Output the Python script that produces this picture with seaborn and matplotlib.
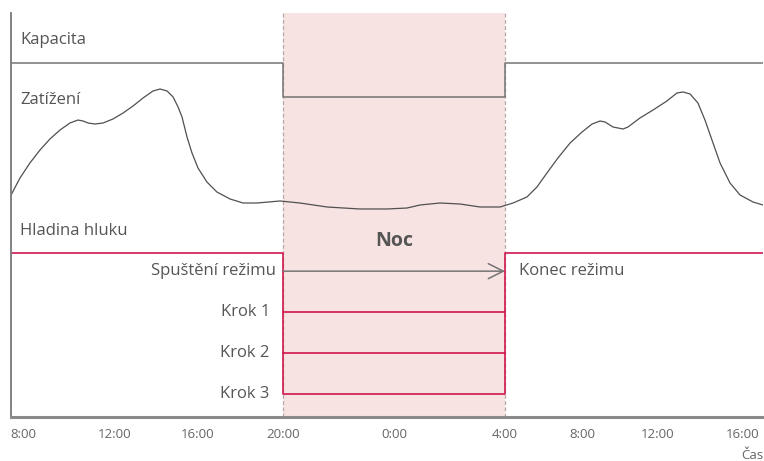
import matplotlib as mpl
import matplotlib.pyplot as plt
import numpy as np
import pandas as pd
import seaborn as sns

# x is hours since 8:00 of day 1; the axis is stretched over the night
tick_hours = [0, 4, 8, 12, 16, 20, 24, 28, 32]
tick_labels = ["8:00", "12:00", "16:00", "20:00", "0:00", "4:00", "8:00", "12:00", "16:00"]

night_start = 12
night_end = 20

# load curve (Zatížení)
load_hours = [-0.52, -0.13, 0.30, 0.74, 1.17, 1.61, 2.04, 2.39, 2.61, 2.83, 3.13, 3.48,
              3.91, 4.39, 4.87, 5.35, 5.83, 6.17, 6.51, 6.80, 7.04, 7.23, 7.47, 7.71,
              8.00, 8.42, 8.89, 9.51, 10.12, 10.78, 11.86, 12.61, 13.59, 14.77, 15.75,
              16.47, 16.94, 17.66, 18.38, 19.10, 19.82, 20.42, 21.14, 21.66, 22.18,
              22.75, 23.38, 24.00, 24.53, 24.95, 25.21, 25.63, 26.16, 26.42, 27.05,
              27.74, 28.42, 28.89, 29.18, 29.51, 29.88, 30.21, 30.54, 30.92, 31.39,
              31.86, 32.47, 32.94]
load_values = [54.95, 59.16, 62.87, 66.09, 68.81, 71.04, 72.77, 73.51, 73.27, 72.77,
               72.52, 72.77, 73.76, 75.25, 76.98, 78.96, 80.69, 81.19, 80.69, 79.21,
               76.73, 74.26, 69.31, 65.35, 61.63, 58.17, 55.69, 53.96, 52.97, 52.97,
               53.47, 52.97, 51.98, 51.49, 51.49, 51.73, 52.48, 52.97, 52.72, 51.98,
               51.98, 52.97, 54.46, 56.93, 60.40, 64.11, 67.82, 70.54, 72.52, 73.27,
               73.02, 71.78, 71.29, 71.78, 74.01, 75.99, 78.22, 80.20, 80.45, 79.95,
               77.72, 73.51, 68.56, 62.87, 57.92, 54.95, 53.22, 52.48]

# capacity (Kapacita): full by day, reduced at night
capacity_day = 87.6
capacity_night = 79.2

# noise level (Hladina hluku) and night steps
noise_day = 40.6
mode_start_level = 36.1
step_levels = [26.0, 15.8, 5.7]
step_labels = ["Krok 1", "Krok 2", "Krok 3"]

# pixel-like widths of the axis between ticks (night is wider)
TICK_POS = np.array([23, 115, 198, 283, 394, 505, 582, 658, 743], float)
TICK_H = np.array(tick_hours, float)
AX_LEFT, AX_RIGHT = 11, 763


def _pw(v, xp, fp):
    v = np.asarray(v, float)
    s_lo = (fp[1] - fp[0]) / (xp[1] - xp[0])
    s_hi = (fp[-1] - fp[-2]) / (xp[-1] - xp[-2])
    return np.where(v < xp[0], fp[0] + (v - xp[0]) * s_lo,
                    np.where(v > xp[-1], fp[-1] + (v - xp[-1]) * s_hi,
                             np.interp(v, xp, fp)))


def fwd(h):
    return _pw(h, TICK_H, TICK_POS)


def inv(p):
    return _pw(p, TICK_POS, TICK_H)


sns.set_theme(style="white")
plt.rcParams["font.family"] = ["Open Sans", "DejaVu Sans"]

TEXT = "#555555"
LINE = "#747474"
RED = "#d0174d"
NIGHT = "#f7e3e1"

fig = plt.figure(figsize=(7.64, 4.61), dpi=100)
ax = fig.add_axes([AX_LEFT / 764, 44 / 461, (AX_RIGHT - AX_LEFT) / 764, 404 / 461])
ax.set_xscale("function", functions=(fwd, inv))
x_lo, x_hi = float(inv(AX_LEFT)), float(inv(AX_RIGHT))

# night band
ax.axvspan(night_start, night_end, color=NIGHT, lw=0, zorder=0)
for xv in (night_start, night_end):
    ax.axvline(xv, color="#b5a8a8", lw=0.9, ls=(0, (3, 2)), zorder=1)

# capacity
cap = pd.DataFrame({
    "h": [x_lo, night_start, night_start, night_end, night_end, x_hi],
    "v": [capacity_day, capacity_day, capacity_night, capacity_night, capacity_day, capacity_day],
})
sns.lineplot(data=cap, x="h", y="v", sort=False, color=LINE, lw=1.1, ax=ax, estimator=None)

# load
load = pd.DataFrame({"h": load_hours, "v": load_values})
sns.lineplot(data=load, x="h", y="v", sort=False, color="#505050", lw=0.9, ax=ax,
             estimator=None, solid_joinstyle="round")

# noise level outline
noise = pd.DataFrame({
    "h": [x_lo, night_start, night_start, night_end, night_end, x_hi],
    "v": [noise_day, noise_day, step_levels[-1], step_levels[-1], noise_day, noise_day],
})
sns.lineplot(data=noise, x="h", y="v", sort=False, color=RED, lw=1.2, ax=ax, estimator=None)
for lvl in step_levels[:-1]:
    ax.plot([night_start, night_end], [lvl, lvl], color=RED, lw=1.2)

# mode arrow
ax.annotate("", xy=(night_end, mode_start_level), xytext=(night_start, mode_start_level),
            arrowprops=dict(arrowstyle="->,head_length=0.9,head_width=0.45", color=LINE, lw=1.1,
                            shrinkA=0, shrinkB=0))

fs = 12
ax.text(0.012, 93.3, "Kapacita", transform=ax.get_yaxis_transform(), fontsize=fs,
        color=TEXT, va="center", ha="left")
ax.text(0.012, 78.5, "Zatížení", transform=ax.get_yaxis_transform(), fontsize=fs,
        color=TEXT, va="center", ha="left")
ax.text(0.012, 46.0, "Hladina hluku", transform=ax.get_yaxis_transform(), fontsize=fs,
        color=TEXT, va="center", ha="left")
ax.text(16, 43.6, "Noc", fontsize=14, fontweight="bold", color=TEXT, ha="center", va="center")
ax.annotate("Spuštění režimu", xy=(night_start, mode_start_level), xytext=(-5, 0),
            textcoords="offset points", ha="right", va="center", fontsize=fs, color=TEXT)
for lvl, lab in zip(step_levels, step_labels):
    ax.annotate(lab, xy=(night_start, lvl), xytext=(-9.5, 0), textcoords="offset points",
                ha="right", va="center", fontsize=fs, color=TEXT)
ax.annotate("Konec režimu", xy=(night_end, mode_start_level), xytext=(10, 0),
            textcoords="offset points", ha="left", va="center", fontsize=fs, color=TEXT)

ax.set_xlim(x_lo, x_hi)
ax.set_ylim(0, 100)
ax.set_xticks(tick_hours)
ax.set_xticklabels(tick_labels)
ax.minorticks_off()
ax.set_yticks([])
ax.set_xlabel("")
ax.set_ylabel("")
ax.tick_params(axis="x", length=0, pad=8, labelsize=9.5, labelcolor="#666666")
for s in ("top", "right"):
    ax.spines[s].set_visible(False)
ax.spines["left"].set_color("#777777")
ax.spines["left"].set_linewidth(1.3)
ax.spines["bottom"].set_color("#8a8a8a")
ax.spines["bottom"].set_linewidth(2.2)

fig.text(763 / 764, 6 / 461, "Čas", ha="right", va="center", fontsize=9.5, color="#666666")

fig.savefig("out.png", dpi=100)
